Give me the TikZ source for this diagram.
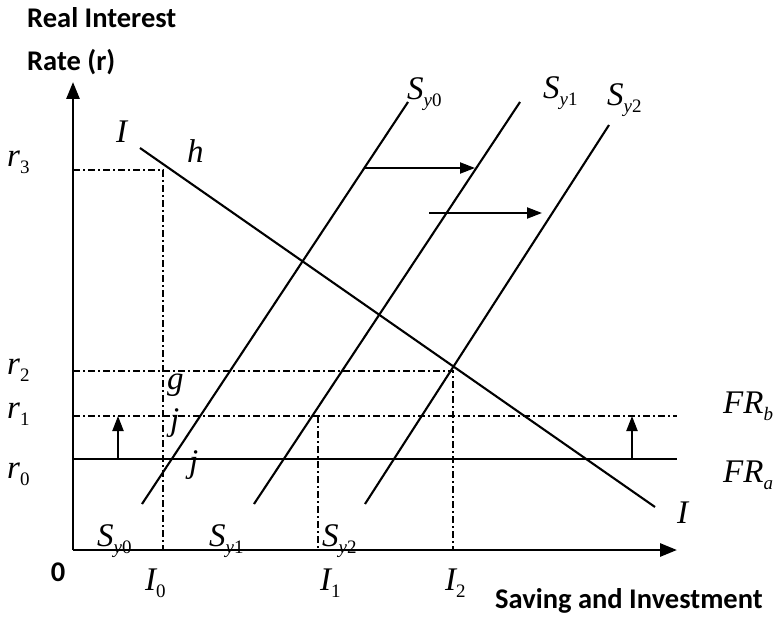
\documentclass[tikz,border=0pt]{standalone}
\usepackage{fontspec}
\setmainfont{Liberation Serif}
\newfontfamily\axfont{Carlito}
\usetikzlibrary{arrows.meta}
\newcommand\lbl[2]{{\fontsize{33}{33}\selectfont\itshape #1}{\fontsize{19}{19}\selectfont\raisebox{-7pt}{#2}}}
\begin{document}
\begin{tikzpicture}[x=1pt,y=-1pt,
  axis/.style={line width=2.8pt,-{Triangle[length=17pt,width=13pt]}},
  curve/.style={line width=2.1pt},
  guide/.style={line width=1.5pt,dash pattern=on 7pt off 3pt on 2pt off 3pt},
  shiftarrow/.style={line width=2.1pt,-{Triangle[length=15pt,width=11pt]}},
  lab/.style={inner sep=0pt,anchor=base west},
  axlab/.style={inner sep=0pt,anchor=base west,font=\axfont\bfseries\fontsize{28.5}{28.5}\selectfont}]
\useasboundingbox (0,0) rectangle (773,617);
% axes
\coordinate (O) at (73,550);
\coordinate (ytop) at (73,82);
\coordinate (xend) at (677,550);
\draw[axis] (O) -- (ytop);
\draw[axis] (O) -- (xend);
% guide coordinates
\coordinate (r3a) at (73,170);
\coordinate (r3b) at (163,170);
\coordinate (I0b) at (163,550);
\coordinate (r2a) at (73,371);
\coordinate (r2b) at (453,371);
\coordinate (I2b) at (453,550);
\coordinate (r1a) at (73,416);
\coordinate (r1b) at (677,416);
\coordinate (I1t) at (318,416);
\coordinate (I1b) at (318,550);
\coordinate (r0a) at (73,459);
\coordinate (r0b) at (677,459);
\draw[guide] (r3a) -- (r3b) -- (I0b);
\draw[guide] (r2a) -- (r2b) -- (I2b);
\draw[guide] (r1a) -- (r1b);
\draw[guide] (I1t) -- (I1b);
\draw[curve] (r0a) -- (r0b);
% investment line
\coordinate (Ia) at (140,148);
\coordinate (Ib) at (655,507);
\draw[curve] (Ia) -- (Ib);
% saving lines
\coordinate (S0t) at (408,102);
\coordinate (S0b) at (142,504);
\coordinate (S1t) at (520,102);
\coordinate (S1b) at (254,504);
\coordinate (S2t) at (609,125);
\coordinate (S2b) at (365,504);
\draw[curve] (S0b) -- (S0t);
\draw[curve] (S1b) -- (S1t);
\draw[curve] (S2b) -- (S2t);
% shift arrows
\coordinate (h1a) at (364,168);
\coordinate (h1b) at (475,168);
\coordinate (h2a) at (429,213);
\coordinate (h2b) at (542,213);
\draw[shiftarrow] (h1a) -- (h1b);
\draw[shiftarrow] (h2a) -- (h2b);
\coordinate (u1a) at (118,459);
\coordinate (u1b) at (118,416);
\coordinate (u2a) at (632,459);
\coordinate (u2b) at (632,416);
\draw[shiftarrow] (u1a) -- (u1b);
\draw[shiftarrow] (u2a) -- (u2b);
% axis labels
\node[axlab] (ylab1) at (27,28) {Real Interest};
\node[axlab] (ylab2) at (27,71) {Rate (r)};
\node[axlab] (xlab) at (495,608) {Saving and Investment};
\node[axlab,anchor=center] (zero) at (58,572) {0};
% rate labels
\node[lab] (lr3) at (7,167) {\lbl{r}{3}};
\node[lab] (lr2) at (7,374) {\lbl{r}{2}};
\node[lab] (lr1) at (7,418) {\lbl{r}{1}};
\node[lab] (lr0) at (7,478) {\lbl{r}{0}};
% I labels
\node[lab] (lI0) at (145,590) {\lbl{I}{0}};
\node[lab] (lI1) at (320,590) {\lbl{I}{1}};
\node[lab] (lI2) at (445,590) {\lbl{I}{2}};
% curve labels
\node[lab] (lItop) at (116,143) {\lbl{I}{}};
\node[lab] (lh) at (187,163) {\lbl{h}{}};
\node[lab] (lIbot) at (677,523) {\lbl{I}{}};
\node[lab] (lg) at (167,389) {\lbl{g}{}};
\node[lab] (lj1) at (170,430) {\lbl{j}{}};
\node[lab] (lj2) at (189,472) {\lbl{j}{}};
\node[lab] (lFRb) at (723,413) {\lbl{FR}{\itshape b}};
\node[lab] (lFRa) at (723,482) {\lbl{FR}{\itshape a}};
\node[lab] (lS0t) at (407,100) {\lbl{S}{\itshape y\upshape 0}};
\node[lab] (lS1t) at (543,99) {\lbl{S}{\itshape y\upshape 1}};
\node[lab] (lS2t) at (607,106) {\lbl{S}{\itshape y\upshape 2}};
\node[lab] (lS0b) at (97,546) {\lbl{S}{\itshape y\upshape 0}};
\node[lab] (lS1b) at (209,546) {\lbl{S}{\itshape y\upshape 1}};
\node[lab] (lS2b) at (322,546) {\lbl{S}{\itshape y\upshape 2}};
\end{tikzpicture}
\end{document}
